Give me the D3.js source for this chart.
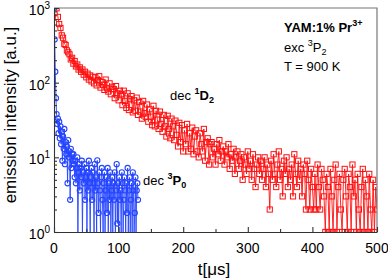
<!DOCTYPE html>
<html>
<head>
<meta charset="utf-8">
<script src="https://cdn.jsdelivr.net/npm/d3@7"></script>
<style>
	body { margin: 0; background: #fff; }
	text { font-family: "Liberation Sans", Arial, sans-serif; fill: #000; }
</style>
</head>
<body>
<svg id="chart"></svg>
<script>
// dec 1D2 (red squares), sampled every 2 us from t = 4 us
const redStart = 4;
const redStep = 2;
const redValues = [
	990, 760, 610, 540, 430, 400, 330, 320, 270, 255,
	240, 205, 215, 180, 195, 165, 175, 150, 160, 140,
	150, 128, 140, 118, 132, 110, 125, 104, 120, 98,
	118, 92, 108, 122, 86, 102, 94, 80, 110, 84,
	76, 98, 70, 88, 82, 62, 90, 72, 58, 78,
	70, 50, 78, 57, 46, 72, 43, 60, 66, 40,
	58, 42, 63, 37, 55, 41, 33, 57, 39, 35,
	51, 30, 44, 35, 27, 49, 26, 42, 32, 24,
	41, 28, 22, 37, 26, 19, 36, 24, 18, 33,
	26, 17, 31, 20, 14, 29, 16, 27, 12, 23,
	15, 28, 12, 21, 13, 25, 11, 19, 23, 12,
	10, 21, 15, 12, 24, 9, 16, 18, 8, 15,
	16, 10, 13, 8, 15, 11, 17, 9, 12, 14,
	8, 12, 10, 15, 7, 11, 9, 13, 6, 10,
	12, 7, 9, 11, 5, 10, 8, 6, 12, 7,
	9, 5, 11, 7, 4, 8, 10, 6, 9, 5,
	7, 10, 4, 8, 6, 2, 9, 5, 11, 6,
	4, 8, 12, 5, 7, 3, 9, 6, 10, 4,
	7, 5, 8, 3, 11, 6, 4, 9, 5, 7,
	3, 8, 6, 2, 9, 5, 2, 7, 4, 2,
	6, 2, 8, 4, 2, 7, 5, 3, 1, 6,
	4, 1, 7, 3, 1, 5, 8, 1, 4, 6,
	2, 1, 5, 7, 3, 1, 6, 4, 1, 8,
	3, 5, 1, 6, 2, 1, 4, 7, 1, 5,
	3, 1, 6, 2, 1, 5, 1, 4, 2
];

// dec 3P0 (blue circles), sampled every 1 us from t = 0; 0 = no counts
const blueStart = 0;
const blueStep = 1;
const blueValues = [
	1000, 380, 140, 62, 38, 28, 33, 21, 30, 18,
	26, 15, 22, 9, 19, 13, 24, 8.1, 16, 11,
	14, 4.5, 17, 10, 12, 2.7, 13, 7.2, 11, 9,
	11, 8.1, 5.4, 9, 4.5, 7.2, 10, 0, 6.3, 8.1,
	3.6, 7.2, 5.4, 9, 0, 6.3, 4.5, 8.1, 2.7, 5.4,
	7.2, 0, 6.3, 3.6, 9, 4.5, 0, 5.4, 7.2, 2.7,
	6.3, 4.5, 0, 8.1, 3.6, 5.4, 0, 9.1, 4.5, 1.8,
	6.3, 3.6, 0, 5.4, 7.2, 2.7, 0, 4.5, 6.3, 0,
	3.6, 5.4, 1.8, 7.2, 0, 4.5, 2.7, 6.3, 0, 3.6,
	5.4, 0, 4.5, 2.7, 6.3, 0, 3.6, 8.1, 1.3, 4.5,
	0, 5.4, 2.7, 3.6, 0, 6.3, 4.5, 0, 2.7, 5.4,
	3.6, 0, 4.5, 1.8, 7.2, 0, 3.6, 5.4, 0, 2.7,
	4.5, 0, 6.3, 3.6, 0, 1.8, 5.4, 0, 3.6, 4.5,
	2.7
];

const xTicks = [0, 100, 200, 300, 400, 500];
const xMinor = [50, 150, 250, 350, 450];
const yTicks = [1, 10, 100, 1000];
const yExponents = ['0', '1', '2', '3'];

function makeChart() {
	let w = 388;
	let h = 280;
	let left = 54, right = 377, top = 8, bottom = 232;

	let chart = d3.select('#chart')
		.attr('width', w)
		.attr('height', h);

	let x = d3.scaleLinear().domain([0, 500]).range([left, right]);
	let y = d3.scaleLog().domain([1, 1000]).range([bottom, top]).clamp(true);

	let yMinor = [];
	[1, 10, 100].forEach(d => d3.range(2, 10).forEach(k => yMinor.push(d * k)));

	chart.append('clipPath')
		.attr('id', 'plot')
		.append('rect')
		.attr('x', left)
		.attr('y', top)
		.attr('width', right - left)
		.attr('height', bottom - top);

	let red = redValues.map((v, i) => ({ t: redStart + i * redStep, v: v }));
	let blue = blueValues.map((v, i) => ({ t: blueStart + i * blueStep, v: v }));

	let line = d3.line()
		.x(d => x(d.t))
		.y(d => y(Math.max(d.v, 0.1)));

	let plot = chart.append('g').attr('clip-path', 'url(#plot)');

	plot.append('path')
		.datum(red)
		.attr('d', line)
		.style('fill', 'none')
		.style('stroke', '#ff1010')
		.style('stroke-width', 0.9);

	plot.selectAll('rect.sq')
		.data(red)
		.enter()
		.append('rect')
		.classed('sq', true)
		.attr('x', d => x(d.t) - 2.6)
		.attr('y', d => y(d.v) - 2.6)
		.attr('width', 5.2)
		.attr('height', 5.2)
		.style('fill', 'none')
		.style('stroke', '#ff1010')
		.style('stroke-width', 1);

	plot.append('path')
		.datum(blue)
		.attr('d', line)
		.style('fill', 'none')
		.style('stroke', '#2444ff')
		.style('stroke-width', 0.9);

	plot.selectAll('circle')
		.data(blue.filter(d => d.v > 0))
		.enter()
		.append('circle')
		.attr('cx', d => x(d.t))
		.attr('cy', d => y(d.v))
		.attr('r', 2.6)
		.style('fill', 'none')
		.style('stroke', '#2444ff')
		.style('stroke-width', 1.1);

	// frame: top and right in grey
	chart.append('path')
		.attr('d', `M${left},${top}H${right}V${bottom}`)
		.style('fill', 'none')
		.style('stroke', '#777')
		.style('stroke-width', 1.2);

	let xAxis = chart.append('g').attr('transform', `translate(0,${bottom})`);
	xAxis.call(d3.axisBottom(x).tickValues(xTicks).tickSizeInner(-5).tickSizeOuter(0).tickFormat(''));
	xAxis.append('g')
		.call(d3.axisBottom(x).tickValues(xMinor).tickSizeInner(-3).tickSizeOuter(0).tickFormat(''))
		.select('.domain').remove();

	let yAxis = chart.append('g').attr('transform', `translate(${left},0)`);
	yAxis.call(d3.axisLeft(y).tickValues(yTicks).tickSizeInner(-5).tickSizeOuter(0).tickFormat(''));
	yAxis.append('g')
		.call(d3.axisLeft(y).tickValues(yMinor).tickSizeInner(-3).tickSizeOuter(0).tickFormat(''))
		.select('.domain').remove();

	chart.selectAll('.domain, .tick line')
		.style('stroke', '#333')
		.style('stroke-width', 1.1);

	chart.selectAll('text.xlab')
		.data(xTicks)
		.enter()
		.append('text')
		.classed('xlab', true)
		.attr('x', d => x(d))
		.attr('y', bottom + 21)
		.style('font-size', '14px')
		.style('text-anchor', 'middle')
		.text(d => d);

	let ylab = chart.selectAll('text.ylab')
		.data(yTicks)
		.enter()
		.append('text')
		.classed('ylab', true)
		.attr('x', left - 4)
		.attr('y', d => y(d) + 7)
		.style('font-size', '14px')
		.style('text-anchor', 'end');
	ylab.append('tspan').text('10');
	ylab.append('tspan')
		.attr('dy', -6)
		.style('font-size', '10px')
		.text((d, i) => yExponents[i]);

	chart.append('text')
		.attr('transform', `translate(16,115) rotate(-90)`)
		.style('font-size', '17px')
		.style('text-anchor', 'middle')
		.text('emission intensity [a.u.]');

	chart.append('text')
		.attr('x', 214)
		.attr('y', 275)
		.style('font-size', '17px')
		.style('text-anchor', 'middle')
		.text('t[\u03bcs]');

	// annotations
	let a1 = chart.append('text').attr('x', 284).attr('y', 32)
		.style('font-size', '13px').style('font-weight', 'bold');
	a1.append('tspan').text('YAM:1% Pr');
	a1.append('tspan').attr('dy', -6).style('font-size', '9px').text('3+');

	let a2 = chart.append('text').attr('x', 284).attr('y', 52).style('font-size', '13px');
	a2.append('tspan').text('exc ');
	a2.append('tspan').attr('dy', -6).style('font-size', '9px').text('3');
	a2.append('tspan').attr('dy', 6).text('P');
	a2.append('tspan').attr('dy', 3).style('font-size', '9px').text('2');

	chart.append('text').attr('x', 284).attr('y', 71)
		.style('font-size', '13px').text('T = 900 K');

	function decLabel(px, py, sup, base, sub) {
		let t = chart.append('text').attr('x', px).attr('y', py).style('font-size', '13px');
		t.append('tspan').text('dec ');
		t.append('tspan').attr('dy', -6).style('font-size', '9px').style('font-weight', 'bold').text(sup);
		t.append('tspan').attr('dy', 6).style('font-weight', 'bold').text(base);
		t.append('tspan').attr('dy', 3).style('font-size', '9px').style('font-weight', 'bold').text(sub);
	}
	decLabel(170, 100, '1', 'D', '2');
	decLabel(143, 185, '3', 'P', '0');
}

window.onload = function () {
	makeChart();
}
</script>
</body>
</html>
